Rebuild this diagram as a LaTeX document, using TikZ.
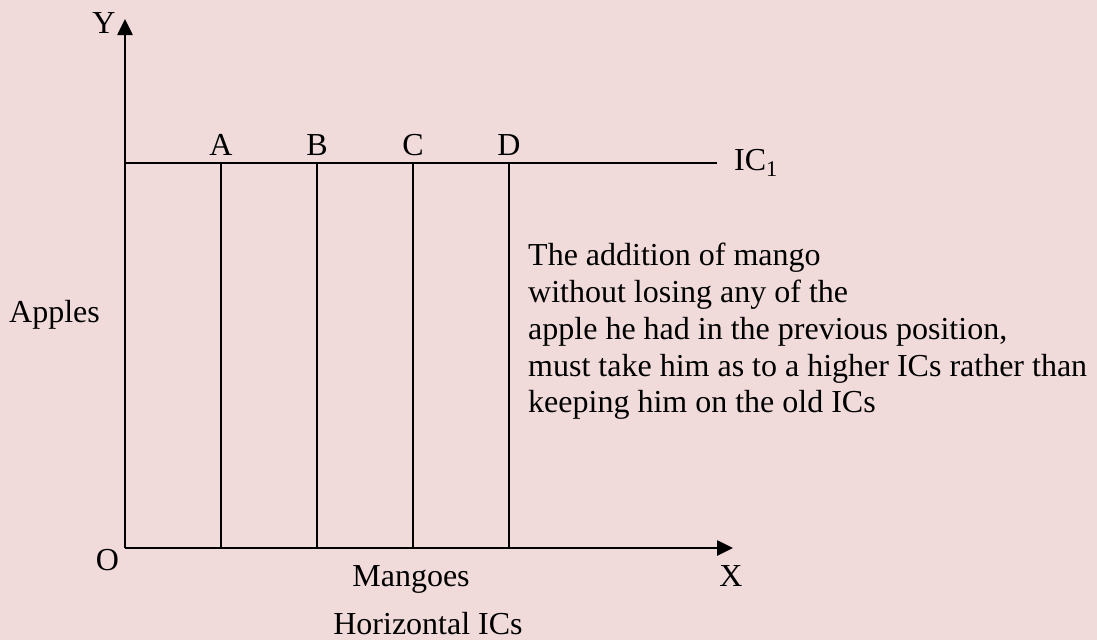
\documentclass[tikz,border=0pt]{standalone}
\usepackage{fontspec}
\setmainfont{Liberation Serif}
\usetikzlibrary{arrows.meta}
\definecolor{diagbg}{RGB}{240,219,218}
\begin{document}
\begin{tikzpicture}[x=1pt,y=-1pt
,axis/.style={color=black,line width=2.6pt,-{Triangle[length=16pt,width=15pt]}}
,icline/.style={color=black,line width=1.8pt}
,lbl/.style={inner sep=0pt,color=black,font=\fontsize{32}{37}\selectfont}
]
\fill[diagbg] (0,0) rectangle (1097,640);
\useasboundingbox (0,0) rectangle (1097,640);
\coordinate (O) at (125,548);
\coordinate (ytip) at (125,19);
\coordinate (xtip) at (733,548);
\coordinate (icend) at (717,163);
\draw[axis] (O) -- (ytip);
\draw[axis] (O) -- (xtip);
\draw[icline] (O |- icend) -- (icend);
\foreach \p/\x in {A/221,B/317,C/413,D/509}{
  \coordinate (\p top) at (\x,163);
  \draw[icline] (\p top) -- (\p top |- O);
  \node[lbl,anchor=base] (lbl\p) at (\x,155) {\p};
}
\node[lbl,anchor=base] (ylbl) at (104,33) {Y};
\node[lbl,anchor=base] (olbl) at (107.5,570.5) {O};
\node[lbl,anchor=base] (xlbl) at (731,586) {X};
\node[lbl,anchor=base] (mangoes) at (411,586) {Mangoes};
\node[lbl,anchor=base] (title) at (428,634) {Horizontal ICs};
\node[lbl,anchor=base west] (apples) at (9,322) {Apples};
\node[lbl,anchor=base west] (iclbl) at (734,170) {IC\textsubscript{1}};
% note beside the curve
\node[lbl,anchor=base west] (note1) at (528,265) {The addition of mango};
\node[lbl,anchor=base west] (note2) at (528,302) {without losing any of the};
\node[lbl,anchor=base west] (note3) at (528,339) {apple he had in the previous position,};
\node[lbl,anchor=base west] (note4) at (528,376) {must take him as to a higher ICs rather than};
\node[lbl,anchor=base west] (note5) at (528,412) {keeping him on the old ICs};
\end{tikzpicture}
\end{document}
